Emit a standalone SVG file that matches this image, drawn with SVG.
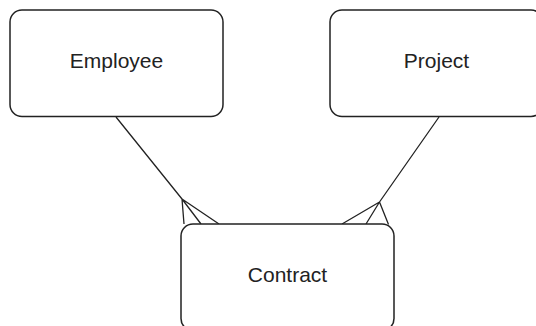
<svg xmlns="http://www.w3.org/2000/svg" width="536" height="326" viewBox="0 0 536 326">
<style>
.box{fill:#fff;stroke:#222;stroke-width:1.5}
.lbl{font-family:"Liberation Sans",Arial,sans-serif;font-size:21px;fill:#222;text-anchor:middle}
.ln{fill:none;stroke:#222;stroke-width:1.3}
</style>
<rect width="536" height="326" fill="#fff"/>
<g id="connectors">
<path class="ln" d="M116,117 L182,199 M182,199 L184,224 M182,199 L201,224 M182,199 L219,224"/>
<path class="ln" d="M439,117 L379.5,202 M379.5,202 L342,224 M379.5,202 L366,224 M379.5,202 L388.5,224.5"/>
</g>
<g id="employee">
<rect class="box" x="10" y="10" width="213" height="106.5" rx="12"/>
<text class="lbl" x="116.5" y="68">Employee</text>
</g>
<g id="project">
<rect class="box" x="330" y="10" width="213" height="106.5" rx="12"/>
<text class="lbl" x="436.5" y="68">Project</text>
</g>
<g id="contract">
<rect class="box" x="181" y="224" width="213" height="106.5" rx="12"/>
<text class="lbl" x="287.5" y="282">Contract</text>
</g>
</svg>
